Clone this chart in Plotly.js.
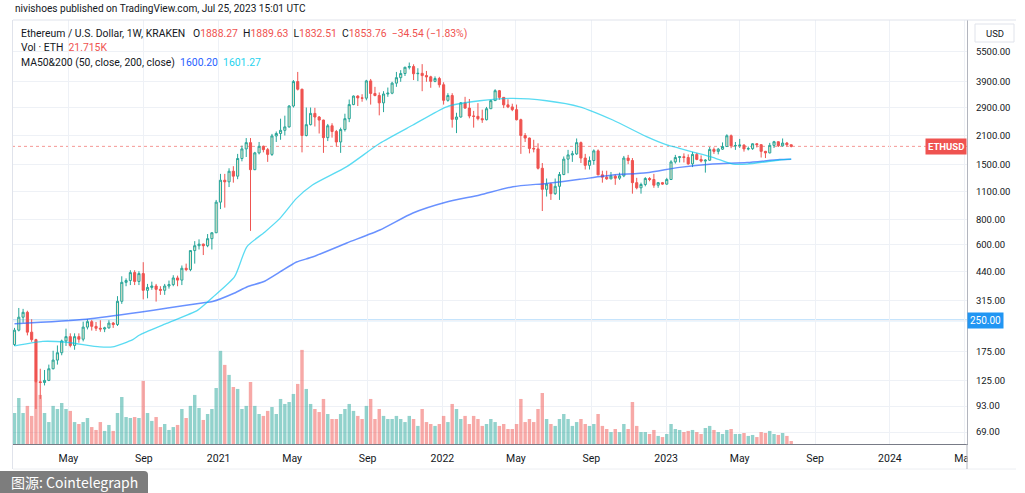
<!DOCTYPE html>
<html><head><meta charset="utf-8">
<script src="https://cdn.plot.ly/plotly-3.0.1.min.js"></script>
<style>html,body{margin:0;padding:0;background:#fff;overflow:hidden}#chart{width:1025px;height:493px}</style>
</head><body><div id="chart"></div>
<script>
// ---------- DATA (ETH/USD weekly, Kraken) ----------
const weeks = [
'2020-02-03','2020-02-10','2020-02-17','2020-02-24','2020-03-02','2020-03-09','2020-03-16','2020-03-23','2020-03-30','2020-04-06','2020-04-13','2020-04-20','2020-04-27','2020-05-04','2020-05-11','2020-05-18','2020-05-25','2020-06-01','2020-06-08','2020-06-15','2020-06-22','2020-06-29','2020-07-06','2020-07-13','2020-07-20','2020-07-27','2020-08-03','2020-08-10','2020-08-17','2020-08-24','2020-08-31','2020-09-07','2020-09-14','2020-09-21','2020-09-28','2020-10-05','2020-10-12','2020-10-19','2020-10-26','2020-11-02','2020-11-09','2020-11-16','2020-11-23','2020-11-30','2020-12-07','2020-12-14','2020-12-21','2020-12-28',
'2021-01-04','2021-01-11','2021-01-18','2021-01-25','2021-02-01','2021-02-08','2021-02-15','2021-02-22','2021-03-01','2021-03-08','2021-03-15','2021-03-22','2021-03-29','2021-04-05','2021-04-12','2021-04-19','2021-04-26','2021-05-03','2021-05-10','2021-05-17','2021-05-24','2021-05-31','2021-06-07','2021-06-14','2021-06-21','2021-06-28','2021-07-05','2021-07-12','2021-07-19','2021-07-26','2021-08-02','2021-08-09','2021-08-16','2021-08-23','2021-08-30','2021-09-06','2021-09-13','2021-09-20','2021-09-27','2021-10-04','2021-10-11','2021-10-18','2021-10-25','2021-11-01','2021-11-08','2021-11-15','2021-11-22','2021-11-29','2021-12-06','2021-12-13','2021-12-20','2021-12-27',
'2022-01-03','2022-01-10','2022-01-17','2022-01-24','2022-01-31','2022-02-07','2022-02-14','2022-02-21','2022-02-28','2022-03-07','2022-03-14','2022-03-21','2022-03-28','2022-04-04','2022-04-11','2022-04-18','2022-04-25','2022-05-02','2022-05-09','2022-05-16','2022-05-23','2022-05-30','2022-06-06','2022-06-13','2022-06-20','2022-06-27','2022-07-04','2022-07-11','2022-07-18','2022-07-25','2022-08-01','2022-08-08','2022-08-15','2022-08-22','2022-08-29','2022-09-05','2022-09-12','2022-09-19','2022-09-26','2022-10-03','2022-10-10','2022-10-17','2022-10-24','2022-10-31','2022-11-07','2022-11-14','2022-11-21','2022-11-28','2022-12-05','2022-12-12','2022-12-19','2022-12-26',
'2023-01-02','2023-01-09','2023-01-16','2023-01-23','2023-01-30','2023-02-06','2023-02-13','2023-02-20','2023-02-27','2023-03-06','2023-03-13','2023-03-20','2023-03-27','2023-04-03','2023-04-10','2023-04-17','2023-04-24','2023-05-01','2023-05-08','2023-05-15','2023-05-22','2023-05-29','2023-06-05','2023-06-12','2023-06-19','2023-06-26','2023-07-03','2023-07-10','2023-07-17','2023-07-24'];

const openP = [
189,223,259,274,218,200,123,122,125,143,158,172,197,207,187,207,201,231,246,233,228,226,229,242,238,311,387,395,433,391,428,353,365,371,357,353,371,377,407,397,455,448,558,590,601,590,640,685,
975,1255,1232,1392,1315,1612,1800,1935,1417,1720,1855,1785,1690,2090,2150,2230,2320,2950,3910,3580,2100,2380,2710,2600,2510,2050,2350,2200,1950,2250,2550,3000,3310,3240,3230,3940,3410,3330,3060,3390,3420,3840,4090,4290,4610,4650,4280,4300,4190,4130,3920,4050,
3770,3150,3330,2530,2600,3060,2880,2630,2620,2550,2520,2860,3140,3520,3260,2990,2920,2830,2520,2100,2040,1810,1800,1440,1130,1200,1075,1170,1340,1600,1680,1700,1935,1620,1490,1575,1760,1335,1300,1275,1315,1285,1320,1620,1575,1220,1150,1195,1280,1265,1185,1220,
1200,1265,1550,1630,1645,1630,1515,1690,1595,1565,1580,1790,1750,1795,1850,2095,1865,1870,1880,1800,1805,1910,1890,1750,1720,1875,1955,1865,1925,1888.27];

const highP = [
229,288,285,279,253,202,143,141,150,176,187,200,227,215,215,215,246,253,251,245,250,232,250,245,330,415,405,445,445,440,488,380,390,380,370,380,395,420,418,470,480,560,622,635,605,675,690,1000,
1350,1350,1440,1475,1700,1870,2040,2040,1740,1950,1870,1820,2140,2200,2550,2640,2980,3980,4370,3600,2900,2900,2890,2630,2520,2400,2420,2240,2300,2700,3180,3330,3340,3380,3990,4030,3680,3450,3500,3650,3900,4370,4460,4640,4870,4770,4560,4780,4420,4180,4150,4130,
3880,3420,3420,2730,3090,3280,3200,2790,3050,2830,2920,3170,3580,3550,3270,3190,3030,3000,2550,2160,2050,2000,1920,1530,1280,1220,1280,1380,1650,1780,1760,2030,1960,1700,1650,1790,1790,1400,1400,1380,1340,1370,1660,1680,1620,1290,1220,1300,1300,1350,1230,1230,
1290,1580,1680,1660,1710,1690,1740,1720,1670,1600,1840,1830,1820,1940,2130,2125,1950,2020,1900,1850,1920,1920,1900,1760,1930,1975,1960,2030,1950,1889.63];

const lowP = [
186,220,243,210,195,90,101,118,124,142,150,167,186,183,178,193,196,225,222,221,219,218,227,229,234,302,370,375,375,375,318,322,355,310,335,335,360,370,370,375,440,440,480,565,530,580,565,683,
900,915,1160,1220,1270,1560,1640,700,1410,1690,1730,1550,1660,1950,2000,2100,2300,2900,3530,1730,2080,2360,2330,2150,1720,1970,2050,1850,1720,2200,2450,2980,2950,3100,3150,3000,3300,2650,2750,3280,3380,3680,3900,4170,4500,3980,3930,3500,3900,3640,3880,3650,
3000,3100,2300,2160,2580,2860,2560,2300,2500,2430,2500,2850,3130,3170,2880,2880,2780,2500,1700,1950,1710,1730,1420,880,1040,1000,1060,1000,1330,1360,1550,1680,1530,1420,1420,1500,1330,1220,1260,1270,1190,1260,1300,1510,1075,1130,1075,1170,1240,1150,1150,1190,
1190,1260,1520,1540,1540,1500,1460,1580,1540,1370,1570,1700,1690,1780,1840,1815,1780,1820,1745,1770,1780,1830,1630,1620,1710,1820,1840,1850,1850,1832.51];

const closeP = [
223,259,274,218,200,123,122,125,143,158,172,197,207,187,207,201,231,246,233,228,226,229,242,238,311,387,395,433,391,428,353,365,371,357,353,371,377,407,397,455,448,558,590,601,590,640,685,975,
1255,1232,1392,1315,1612,1800,1935,1417,1720,1855,1785,1690,2090,2150,2230,2320,2950,3910,3580,2100,2380,2710,2600,2510,2050,2350,2200,1950,2250,2550,3000,3310,3240,3230,3940,3410,3330,3060,3390,3420,3840,4090,4290,4610,4650,4280,4300,4190,4130,3920,4050,3770,
3150,3330,2530,2600,3060,2880,2630,2620,2550,2520,2860,3140,3520,3260,2990,2920,2830,2520,2100,2040,1810,1800,1440,1130,1200,1075,1170,1340,1600,1680,1700,1935,1620,1490,1575,1760,1335,1300,1275,1315,1285,1320,1620,1575,1220,1150,1195,1280,1265,1185,1220,1200,
1265,1550,1630,1645,1630,1515,1690,1595,1565,1580,1790,1750,1795,1850,2095,1865,1870,1880,1800,1805,1910,1890,1750,1720,1875,1955,1865,1925,1888.30,1853.76];

// weekly volume, thousands of ETH
const volumeK = [
223,331,223,274,202,446,353,223,158,274,252,295,252,238,158,144,158,187,122,101,158,94,137,94,223,338,194,187,194,187,454,223,166,194,122,144,101,122,137,252,187,274,353,259,173,216,252,403,
670,569,497,410,396,252,274,446,274,216,202,238,266,216,324,288,302,360,432,677,396,288,252,230,324,216,180,180,216,252,288,238,202,180,274,324,180,252,202,180,180,202,180,158,202,180,130,252,158,144,130,144,
202,158,288,252,180,202,144,202,180,130,144,180,158,130,144,108,108,144,324,158,180,158,252,367,180,144,130,180,216,180,130,158,180,144,130,144,216,130,108,86,108,86,144,108,302,130,86,86,72,101,58,50,
72,144,108,101,86,94,101,86,72,115,130,101,86,72,101,108,72,72,79,58,65,50,86,79,94,72,65,79,58,21.715];

// moving averages
const ma50Dates = ['2020-02-03','2020-03-20','2020-04-28','2020-06-21','2020-07-12','2020-08-14','2020-08-25','2020-10-08','2020-11-28','2020-12-22','2021-01-27','2021-02-16','2021-03-17','2021-04-11','2021-05-08','2021-06-03','2021-07-29','2021-09-21','2021-11-14','2022-01-08','2022-03-03','2022-04-26','2022-06-20','2022-08-13','2022-10-06','2022-11-30','2023-01-02','2023-01-23','2023-03-18','2023-04-20','2023-05-13','2023-07-05','2023-07-24'];
const ma50 = [186,196,194,184,184,200,211,241,281,325,413,583,690,809,1018,1188,1467,1920,2370,2925,3135,3222,3135,2925,2512,2073,1885,1813,1634,1512,1512,1584,1601.27];
const ma200Dates = ['2020-02-03','2020-05-30','2020-08-25','2020-10-10','2020-12-05','2020-12-22','2021-01-27','2021-02-16','2021-03-17','2021-04-11','2021-05-08','2021-06-03','2021-07-29','2021-09-21','2021-11-14','2022-01-08','2022-03-03','2022-04-26','2022-06-20','2022-08-13','2022-10-06','2022-11-30','2023-01-23','2023-03-18','2023-05-13','2023-07-05','2023-07-24'];
const ma200 = [240,253,274,288,305,310,342,367,392,436,489,518,609,707,860,976,1059,1165,1210,1268,1331,1367,1455,1512,1537,1594,1600.20];

const priceTicks = [69,93,125,175,250,315,440,600,800,1100,1500,2100,2900,3900,5500];
const monthTicks = ['2020-05-01','2020-09-01','2021-01-01','2021-05-01','2021-09-01','2022-01-01','2022-05-01','2022-09-01','2023-01-01','2023-05-01','2023-09-01','2024-01-01','2024-05-01'];
const monthLabels = ['May','Sep','2021','May','Sep','2022','May','Sep','2023','May','Sep','2024','May'];
const alertLevel = 250;

// ---------- STYLE ----------
const RED = '#ef5350', TEAL = '#26a69a', UPFILL = '#f1e4cb';
const FONT = "Roboto, 'Noto Sans', sans-serif";
const TXT = '#131722';
const LEG = 10.4;
const PLOT = {l:12, r:967, t:20, b:444};
const px = x => (x - PLOT.l) / (PLOT.r - PLOT.l);
const py = y => (PLOT.b - y) / (PLOT.b - PLOT.t);
function note(x, y, text, extra) {
  return Object.assign({xref:'paper', yref:'paper', x:px(x), y:py(y), text:text, showarrow:false,
    xanchor:'left', yanchor:'middle', font:{family:FONT, size:LEG, color:TXT}}, extra || {});
}

const n = closeP.length;
const lastO = openP[n-1], lastH = highP[n-1], lastL = lowP[n-1], lastC = closeP[n-1];
const chg = lastC - closeP[n-2];
const pct = chg / closeP[n-2] * 100;
const sgn = v => (v < 0 ? '\u2212' : '+') + Math.abs(v).toFixed(2);
const col = (c, s) => '<span style="color:' + c + '">' + s + '</span>';
const GAP = '\u00a0\u00a0';

const volColors = closeP.map((c, i) => c >= openP[i] ? 'rgba(38,166,154,0.5)' : 'rgba(239,83,80,0.5)');
const WEEK = 7 * 24 * 3600 * 1000;

const traces = [
  {type:'bar', x:weeks, y:volumeK, xaxis:'x', yaxis:'y', width:weeks.map(() => WEEK*0.8),
   marker:{color:volColors, line:{width:0}}, hoverinfo:'skip'},
  {type:'candlestick', x:weeks, open:openP, high:highP, low:lowP, close:closeP, xaxis:'x', yaxis:'y2',
   increasing:{line:{color:TEAL, width:1}, fillcolor:UPFILL},
   decreasing:{line:{color:RED, width:1}, fillcolor:RED},
   whiskerwidth:0, hoverinfo:'skip'},
  {type:'scatter', mode:'lines', x:ma200Dates, y:ma200, xaxis:'x', yaxis:'y2',
   line:{color:'rgba(41,98,255,0.7)', width:1.5, shape:'spline', smoothing:0.6}, hoverinfo:'skip'},
  {type:'scatter', mode:'lines', x:ma50Dates, y:ma50, xaxis:'x', yaxis:'y2',
   line:{color:'rgba(0,200,235,0.65)', width:1.3, shape:'spline', smoothing:0.6}, hoverinfo:'skip'}
];

const srcBox = 'M ' + px(0) + ',' + py(494) + ' L ' + px(0) + ',' + py(471) + ' L ' + px(144) + ',' + py(471) +
  ' Q ' + px(148) + ',' + py(471) + ' ' + px(148) + ',' + py(475) + ' L ' + px(148) + ',' + py(494) + ' Z';

const shapes = [
  {type:'line', xref:'paper', x0:0, x1:1, yref:'y2', y0:alertLevel, y1:alertLevel, layer:'below',
   line:{color:'rgba(33,150,243,0.35)', width:2}},
  {type:'line', xref:'paper', x0:0, x1:1, yref:'y2', y0:lastC, y1:lastC, layer:'below',
   line:{color:'rgba(239,83,80,0.6)', width:1, dash:'dot'}},
  {type:'rect', xref:'paper', yref:'paper', x0:px(967.5), x1:px(1025), y0:py(468), y1:py(445.5), layer:'above',
   fillcolor:'#ffffff', line:{width:0}},
  {type:'line', xref:'paper', yref:'paper', x0:px(13), x1:px(1016), y0:py(20), y1:py(20), layer:'above', line:{color:'#e0e3eb', width:1}},
  {type:'line', xref:'paper', yref:'paper', x0:px(12.5), x1:px(12.5), y0:py(20), y1:py(469), layer:'above', line:{color:'#e0e3eb', width:1}},
  {type:'line', xref:'paper', yref:'paper', x0:px(13), x1:px(1016), y0:py(469), y1:py(469), layer:'above', line:{color:'#eceef2', width:1}},
  {type:'line', xref:'paper', yref:'paper', x0:px(967), x1:px(967), y0:py(444), y1:py(469), layer:'above', line:{color:'#b2b5be', width:1}},
  {type:'rect', xref:'paper', yref:'paper', x0:px(975), x1:px(1014), y0:py(42), y1:py(24), layer:'above',
   fillcolor:'#ffffff', line:{color:'#e0e3eb', width:1}},
  {type:'path', xref:'paper', yref:'paper', path:srcBox, layer:'above', fillcolor:'#7d7d7d', line:{width:0}}
];

const line1 = 'Ethereum / U.S. Dollar, 1W, KRAKEN' + GAP + '\u00a0' +
  'O' + col(RED, lastO.toFixed(2)) + GAP + 'H' + col(RED, lastH.toFixed(2)) + GAP +
  'L' + col(RED, lastL.toFixed(2)) + GAP + 'C' + col(RED, lastC.toFixed(2)) + GAP +
  col(RED, sgn(chg) + ' (' + sgn(pct) + '%)');
const line2 = 'Vol \u00b7 ETH' + GAP + col(RED, volumeK[n-1].toFixed(3) + 'K');
const line3 = 'MA50&amp;200 (50, close, 200, close)' + GAP +
  col('#2962ff', ma200[ma200.length-1].toFixed(2)) + GAP + col('#1fd3ee', ma50[ma50.length-1].toFixed(2));

const annotations = [
  note(13, 8.5, 'nivishoes published on TradingView.com, Jul 25, 2023 15:01 UTC', {font:{family:FONT, size:10.1, color:TXT}}),
  note(19, 33, line1),
  note(19, 47.5, line2),
  note(19, 62, line3),
  {xref:'paper', yref:'y2', x:px(967.5), y:Math.log10(alertLevel), text:alertLevel.toFixed(2), showarrow:false,
   xanchor:'left', yanchor:'middle', bgcolor:'#2196f3', borderpad:2, font:{family:FONT, size:10, color:'#ffffff'}},
  {xref:'paper', yref:'y2', x:px(966.5), y:Math.log10(lastC), text:'<b>ETHUSD</b>', showarrow:false,
   xanchor:'right', yanchor:'middle', bgcolor:RED, borderpad:2, font:{family:FONT, size:9.5, color:'#ffffff'}},
  {xref:'paper', yref:'paper', x:px(994.5), y:py(33), text:'USD', showarrow:false, xanchor:'center', yanchor:'middle',
   font:{family:FONT, size:9.5, color:TXT}},
  {xref:'paper', yref:'paper', x:px(74), y:py(482.5), text:'图源: Cointelegraph', showarrow:false, xanchor:'center', yanchor:'middle',
   font:{family:"'Noto Sans CJK SC', sans-serif", size:14, color:'#ffffff'}}
];

const layout = {
  width:1025, height:493,
  margin:{l:PLOT.l, r:1025-PLOT.r, t:PLOT.t, b:493-PLOT.b, pad:0},
  paper_bgcolor:'#ffffff', plot_bgcolor:'#ffffff',
  font:{family:FONT, size:10.5, color:TXT},
  showlegend:false, bargap:0.2, boxgap:0.3,
  xaxis:{type:'date', range:['2020-01-29 22:00','2024-05-05 19:00'], tickvals:monthTicks, ticktext:monthLabels,
    showgrid:true, gridcolor:'#eef1f6', gridwidth:1, zeroline:false, showline:true, linecolor:'#787b86', linewidth:1,
    ticks:'outside', ticklen:4, tickcolor:'rgba(0,0,0,0)', tickfont:{family:FONT, size:10.5, color:TXT},
    rangeslider:{visible:false}, fixedrange:true},
  yaxis:{range:[0, 3050], visible:false, fixedrange:true},
  yaxis2:{type:'log', overlaying:'y', side:'right', range:[1.7788, 3.9003],
    tickvals:priceTicks, ticktext:priceTicks.map(v => v === alertLevel ? '' : v.toFixed(2)),
    showgrid:true, gridcolor:'#eef1f6', gridwidth:1, zeroline:false, showline:true, linecolor:'#b2b5be', linewidth:1,
    ticks:'outside', ticklen:6, tickcolor:'rgba(0,0,0,0)', tickfont:{family:FONT, size:9.5, color:TXT}, fixedrange:true},
  shapes:shapes, annotations:annotations
};

Plotly.newPlot('chart', traces, layout, {staticPlot:true, displayModeBar:false});
</script>
</body></html>
